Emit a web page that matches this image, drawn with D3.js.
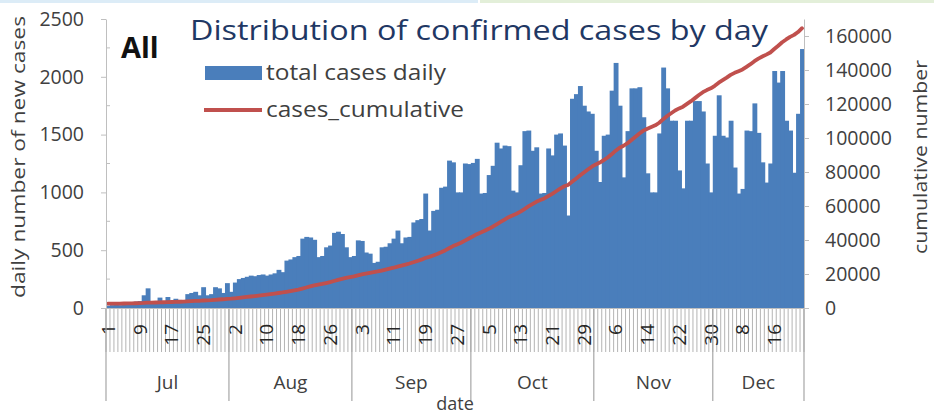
<!DOCTYPE html>
<html>
<head>
<meta charset="utf-8">
<script src="https://cdn.jsdelivr.net/npm/d3@7"></script>
<style>
  body { margin: 0; background: #fff; }
  svg { display: block; font-family: "Open Sans", sans-serif; }
</style>
</head>
<body>
<svg id="chart" width="934" height="415"></svg>
<script>
// months on the lower level of the category axis, and how many days of each are shown
var months = ["Jul", "Aug", "Sep", "Oct", "Nov", "Dec"];
var monthDays = [31, 31, 30, 31, 30, 23];

// daily new cases, Jul 1 .. Dec 23
var dailyCases = [
  20, 25, 30, 25, 35, 50, 45, 55, 60, 110,
  170, 60, 50, 90, 60, 95, 55, 80, 70, 60,
  120, 130, 140, 110, 180, 110, 120, 180, 170, 130,
  215, 140, 220, 250, 260, 270, 280, 275, 285, 290,
  280, 290, 300, 330, 310, 410, 420, 440, 450, 600,
  615, 610, 590, 440, 450, 525, 540, 650, 660, 640,
  525, 440, 450, 585, 580, 480, 470, 390, 400, 525,
  530, 560, 600, 670, 560, 610, 615, 740, 760, 770,
  990, 670, 840, 850, 1040, 1050, 1275, 1260, 1000, 1000,
  1250, 1245, 1255, 1290, 990, 995, 1150, 1230, 1430, 1380,
  1405, 1400, 1015, 1000, 1235, 1530, 1535, 1360, 1390, 990,
  995, 1380, 1320, 1500, 1510, 1405, 800, 1810, 1850, 1920,
  1750, 1700, 1680, 1360, 1090, 1490, 1500, 1880, 2120, 1750,
  1130, 1530, 1900, 1900, 1910, 1650, 1165, 1000, 1000, 1510,
  2080, 1900, 1620, 1620, 1190, 1035, 1620, 1620, 1790, 1790,
  1700, 1250, 1000, 1490, 1840, 1490, 1475, 1620, 1215, 990,
  1030, 1535, 1530, 1770, 1515, 1260, 1085, 1250, 2050, 1950,
  2050, 1620, 1535, 1170, 1680, 2240
];

// cases already counted before Jul 1
var startCumulative = 2500;

var leftTicks = [0, 500, 1000, 1500, 2000, 2500];
var rightTicks = [0, 20000, 40000, 60000, 80000, 100000, 120000, 140000, 160000];
var legendLabels = ["total cases daily", "cases_cumulative"];

var blue = "#4a7ebb", red = "#c0504d", axisGrey = "#bfbfbf", labelColor = "#404040";

var drawChart = function() {

  // one category per day
  var days = [];
  months.forEach(function(m, k) {
    for (var d = 1; d <= monthDays[k]; d++) days.push({month: m, day: d});
  });
  var cum = d3.cumsum(dailyCases);
  days.forEach(function(d, i) {
    d.i = i;
    d.cases = dailyCases[i];
    d.total = startCumulative + cum[i];
  });

  var svg = d3.select("#chart");

  // faint slide borders at the very top
  svg.append("rect").attr("x", 0).attr("y", 0).attr("width", 478).attr("height", 3).attr("fill", "#dcecf7");
  svg.append("rect").attr("x", 480).attr("y", 0).attr("width", 454).attr("height", 3).attr("fill", "#e3efd9");

  var plotLeft = 106, plotRight = 804, plotTop = 19, plotBottom = 308;

  var x = d3.scaleBand().domain(d3.range(days.length)).range([plotLeft, plotRight]).padding(0);
  var yL = d3.scaleLinear().domain([0, 2500]).range([plotBottom, plotTop]);
  var yR = d3.scaleLinear().domain([0, 170000]).range([plotBottom, plotTop]);

  // bars, slightly overlapped so they read as one solid mass like the original
  svg.append("g")
    .selectAll("rect")
    .data(days)
    .enter().append("rect")
    .attr("x", function(d) { return x(d.i); })
    .attr("y", function(d) { return yL(d.cases); })
    .attr("width", x.bandwidth() + 0.9)
    .attr("height", function(d) { return plotBottom - yL(d.cases); })
    .attr("fill", blue);

  // cumulative line
  var line = d3.line()
    .x(function(d) { return x(d.i) + x.bandwidth() / 2; })
    .y(function(d) { return yR(d.total); });

  svg.append("path")
    .datum(days)
    .attr("d", line)
    .attr("fill", "none")
    .attr("stroke", red)
    .attr("stroke-width", 3.8)
    .attr("stroke-linejoin", "round")
    .attr("stroke-linecap", "round");

  // left axis
  var gL = svg.append("g")
    .attr("transform", "translate(" + plotLeft + ",0)")
    .call(d3.axisLeft(yL).tickValues(leftTicks).tickFormat(d3.format("d"))
      .tickSize(5).tickPadding(17).tickSizeOuter(0));
  gL.append("g").selectAll("line")
    .data(d3.range(250, 2500, 500))
    .enter().append("line")
    .attr("x1", 0).attr("x2", 4)
    .attr("y1", function(d) { return yL(d); }).attr("y2", function(d) { return yL(d); })
    .attr("stroke", axisGrey);

  // right axis
  var gR = svg.append("g")
    .attr("transform", "translate(" + plotRight + ",0)")
    .call(d3.axisRight(yR).tickValues(rightTicks).tickFormat(d3.format("d"))
      .tickSize(5).tickPadding(16).tickSizeOuter(0));

  [gL, gR].forEach(function(g) {
    g.select(".domain").attr("stroke", axisGrey);
    g.selectAll(".tick line").attr("stroke", axisGrey);
    g.selectAll(".tick text")
      .attr("fill", labelColor)
      .style("font-size", "19.5px")
      .style("font-family", "'Open Sans', sans-serif");
  });

  // category axis: day ticks, day labels every 8 days, month band
  var catAxis = svg.append("g");
  catAxis.selectAll("line.day")
    .data(d3.range(days.length + 1))
    .enter().append("line")
    .attr("class", "day")
    .attr("x1", function(i) { return plotLeft + i * x.step(); })
    .attr("x2", function(i) { return plotLeft + i * x.step(); })
    .attr("y1", plotBottom + 1).attr("y2", 352)
    .attr("stroke", "#b4b4b4")
    .attr("stroke-width", 1);

  catAxis.append("line")
    .attr("x1", plotLeft).attr("x2", plotRight)
    .attr("y1", plotBottom + 0.5).attr("y2", plotBottom + 0.5)
    .attr("stroke", axisGrey);

  catAxis.selectAll("text.day")
    .data(days.filter(function(d) { return d.i % 8 === 0; }))
    .enter().append("text")
    .attr("class", "day")
    .attr("transform", function(d) {
      return "translate(" + (x(d.i) + x.bandwidth() / 2) + ",324) rotate(-90)";
    })
    .attr("dy", "0.36em")
    .attr("text-anchor", "end")
    .attr("fill", "#262626")
    .style("font-size", "19px")
    .text(function(d) { return d.day; });

  // month boundaries and names
  var starts = [0];
  monthDays.forEach(function(n, k) { starts.push(starts[k] + n); });

  catAxis.selectAll("line.month")
    .data(starts)
    .enter().append("line")
    .attr("class", "month")
    .attr("x1", function(s) { return plotLeft + s * x.step(); })
    .attr("x2", function(s) { return plotLeft + s * x.step(); })
    .attr("y1", plotBottom + 1).attr("y2", 401)
    .attr("stroke", "#a6a6a6")
    .attr("stroke-width", 1.2);

  catAxis.selectAll("text.month")
    .data(months)
    .enter().append("text")
    .attr("class", "month")
    .attr("x", function(m, k) { return plotLeft + (starts[k] + starts[k + 1]) / 2 * x.step(); })
    .attr("y", 389)
    .attr("text-anchor", "middle")
    .attr("fill", labelColor)
    .style("font-size", "19px")
    .text(function(m) { return m; });

  // axis titles
  svg.append("text")
    .attr("x", (plotLeft + plotRight) / 2)
    .attr("y", 410)
    .attr("text-anchor", "middle")
    .attr("fill", labelColor)
    .style("font-size", "18px")
    .text("date");

  svg.append("text")
    .attr("transform", "translate(25,157) rotate(-90)")
    .attr("text-anchor", "middle")
    .attr("fill", labelColor)
    .attr("textLength", 282)
    .attr("lengthAdjust", "spacingAndGlyphs")
    .style("font-size", "19px")
    .text("daily number of new cases");

  svg.append("text")
    .attr("transform", "translate(927,157) rotate(-90)")
    .attr("text-anchor", "middle")
    .attr("fill", labelColor)
    .attr("textLength", 194)
    .attr("lengthAdjust", "spacingAndGlyphs")
    .style("font-size", "19px")
    .text("cumulative number");

  // title and panel label
  svg.append("text")
    .attr("x", 190)
    .attr("y", 40)
    .attr("fill", "#1f3864")
    .attr("textLength", 578)
    .attr("lengthAdjust", "spacingAndGlyphs")
    .style("font-size", "28px")
    .text("Distribution of confirmed cases by day");

  svg.append("text")
    .attr("x", 121)
    .attr("y", 58)
    .attr("fill", "#111")
    .style("font-size", "29px")
    .style("font-weight", "bold")
    .text("All");

  // legend
  var legendWidths = [180, 198];
  var legend = svg.append("g");
  legend.append("rect")
    .attr("x", 205).attr("y", 66).attr("width", 57).attr("height", 14)
    .attr("fill", blue);
  legend.append("line")
    .attr("x1", 204).attr("x2", 262).attr("y1", 110).attr("y2", 110)
    .attr("stroke", red).attr("stroke-width", 4);
  legend.selectAll("text")
    .data(legendLabels)
    .enter().append("text")
    .attr("x", 266)
    .attr("y", function(d, i) { return 80 + i * 37; })
    .attr("fill", labelColor)
    .attr("textLength", function(d, i) { return legendWidths[i]; })
    .attr("lengthAdjust", "spacingAndGlyphs")
    .style("font-size", "21px")
    .text(function(d) { return d; });
};

drawChart();
</script>
</body>
</html>
